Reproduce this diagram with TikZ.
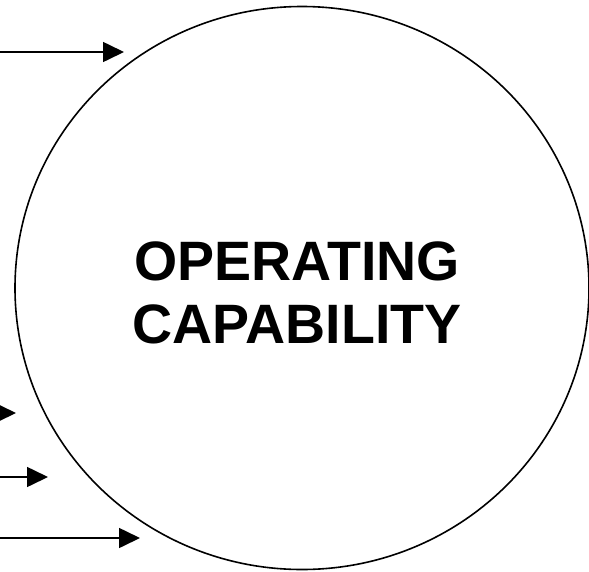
\documentclass[tikz,border=0pt]{standalone}
\usepackage{fontspec}
\setmainfont{Liberation Sans}
\usetikzlibrary{arrows.meta,shapes.geometric}

\begin{document}
\begin{tikzpicture}[x=1pt, y=-1pt, line width=1.6pt,
		feed/.style={-{Triangle[length=21pt,width=20pt]}}]
		\useasboundingbox (0,0) rectangle (589,571);

		% Circle
		\node[draw, ellipse, inner sep=0pt, minimum width=574pt, minimum height=563pt] (cap) at (302,288) {};
		\node[align=center, inner sep=0pt, font=\fontsize{55.5}{63}\selectfont\bfseries] (name) at (297,293) {OPERATING\\CAPABILITY};

		% Arrows
		\coordinate (a1) at (0,52);   \coordinate (b1) at (124,52);
		\coordinate (a2) at (-5,413); \coordinate (b2) at (16,413);
		\coordinate (a3) at (0,477);  \coordinate (b3) at (48,477);
		\coordinate (a4) at (0,538);  \coordinate (b4) at (140,538);
		\draw[feed] (a1) -- (b1);
		\draw[feed] (a2) -- (b2);
		\draw[feed] (a3) -- (b3);
		\draw[feed] (a4) -- (b4);
	\end{tikzpicture}
\end{document}
